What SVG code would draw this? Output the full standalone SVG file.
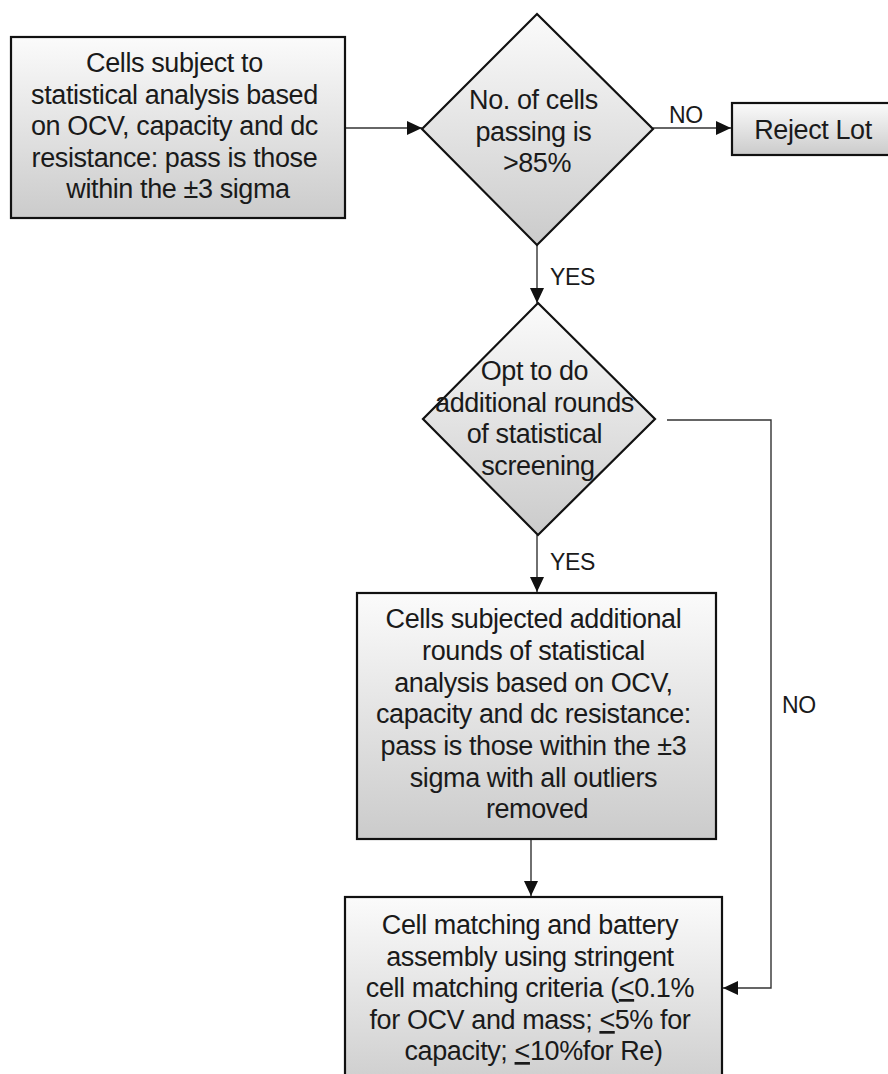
<svg xmlns="http://www.w3.org/2000/svg" width="888" height="1074" viewBox="0 0 888 1074">
  <style>
    .node { fill: url(#shade); stroke: #111; stroke-width: 2.2; }
    .txt { font-family: "Liberation Sans", Arial, sans-serif; font-size: 27px; letter-spacing: -0.4px; fill: #1a1a1a; text-anchor: middle; }
    .lbl { font-family: "Liberation Sans", Arial, sans-serif; font-size: 23px; letter-spacing: -0.3px; fill: #1a1a1a; }
    .conn { fill: none; stroke: #333; stroke-width: 1.4; }
    .u { text-decoration: underline; }
  </style>
  <defs>
    <linearGradient id="shade" x1="0" y1="0" x2="0" y2="1">
      <stop offset="0" stop-color="#fbfbfb"/>
      <stop offset="1" stop-color="#cbcbcb"/>
    </linearGradient>
    <marker id="arrow" viewBox="0 0 15 14" refX="15" refY="7" markerWidth="15" markerHeight="14" markerUnits="userSpaceOnUse" orient="auto">
      <path d="M0,0 L15,7 L0,14 Z" fill="#111"/>
    </marker>
  </defs>

  <!-- connectors -->
  <g id="connectors">
    <line class="conn" x1="346" y1="128" x2="422" y2="128" marker-end="url(#arrow)"/>
    <line class="conn" x1="653" y1="128" x2="731" y2="128" marker-end="url(#arrow)"/>
    <text class="lbl" x="669" y="123">NO</text>
    <line class="conn" x1="537" y1="245" x2="537" y2="303" marker-end="url(#arrow)"/>
    <text class="lbl" x="550" y="285">YES</text>
    <line class="conn" x1="537" y1="535" x2="537" y2="592" marker-end="url(#arrow)"/>
    <text class="lbl" x="550" y="570">YES</text>
    <line class="conn" x1="531" y1="840" x2="531" y2="896" marker-end="url(#arrow)"/>
    <path class="conn" d="M667,420 H771 V988 H723" marker-end="url(#arrow)"/>
    <text class="lbl" x="782" y="713">NO</text>
  </g>

  <!-- initial statistical screening -->
  <g id="screen-initial">
    <rect class="node" x="11" y="37" width="334" height="181"/>
    <text class="txt">
      <tspan x="178" y="72">Cells subject to</tspan>
      <tspan x="178" y="103.5">statistical analysis based</tspan>
      <tspan x="178" y="135">on OCV, capacity and dc</tspan>
      <tspan x="178" y="166.5">resistance: pass is those</tspan>
      <tspan x="178" y="198">within the ±3 sigma</tspan>
    </text>
  </g>

  <!-- pass-rate decision -->
  <g id="decision-pass-rate">
    <polygon class="node" points="537,14 653,129 537,245 422,129"/>
    <text class="txt">
      <tspan x="537" y="109">No. of cells</tspan>
      <tspan x="537" y="140.5">passing is</tspan>
      <tspan x="537" y="172">&gt;85%</tspan>
    </text>
  </g>

  <!-- reject -->
  <g id="reject-lot">
    <rect class="node" x="732" y="103" width="164" height="52"/>
    <text class="txt" x="813" y="139">Reject Lot</text>
  </g>

  <!-- optional extra screening decision -->
  <g id="decision-extra-rounds">
    <polygon class="node" points="538,303 655,419 538,535 423,419"/>
    <text class="txt">
      <tspan x="538" y="380">Opt to do</tspan>
      <tspan x="538" y="411.5">additional rounds</tspan>
      <tspan x="538" y="443">of statistical</tspan>
      <tspan x="538" y="474.5">screening</tspan>
    </text>
  </g>

  <!-- additional screening rounds -->
  <g id="screen-additional">
    <rect class="node" x="357" y="593" width="359" height="246"/>
    <text class="txt">
      <tspan x="537" y="628">Cells subjected additional</tspan>
      <tspan x="537" y="660">rounds of statistical</tspan>
      <tspan x="537" y="691.5">analysis based on OCV,</tspan>
      <tspan x="537" y="723">capacity and dc resistance:</tspan>
      <tspan x="537" y="755">pass is those within the ±3</tspan>
      <tspan x="537" y="786.5">sigma with all outliers</tspan>
      <tspan x="537" y="818">removed</tspan>
    </text>
  </g>

  <!-- cell matching and assembly -->
  <g id="cell-matching">
    <rect class="node" x="345" y="897" width="377" height="200"/>
    <text class="txt">
      <tspan x="533.5" y="934">Cell matching and battery</tspan>
      <tspan x="533.5" y="965.5">assembly using stringent</tspan>
      <tspan x="533.5" y="997">cell matching criteria (<tspan class="u">&lt;</tspan>0.1%</tspan>
      <tspan x="533.5" y="1029">for OCV and mass; <tspan class="u">&lt;</tspan>5% for</tspan>
      <tspan x="533.5" y="1060">capacity; <tspan class="u">&lt;</tspan>10%for Re)</tspan>
    </text>
  </g>
</svg>
